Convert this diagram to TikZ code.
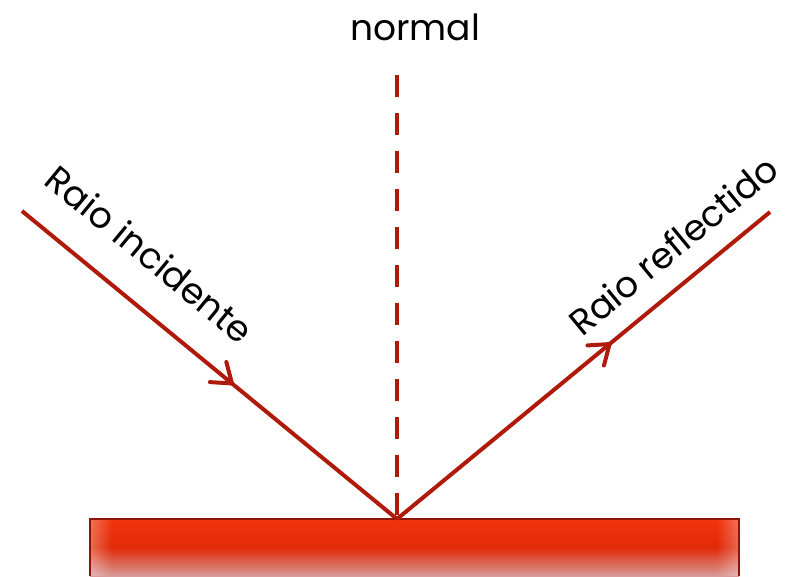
\documentclass[tikz,border=0pt]{standalone}
\usepackage{fontspec}
\setmainfont{Poppins}
\usetikzlibrary{decorations.markings,fadings}
\definecolor{ray}{HTML}{B01A0A}
\definecolor{mirA}{HTML}{F2340E}
\definecolor{mirB}{HTML}{E02A08}
\definecolor{mirC}{HTML}{D99A98}
\tikzset{
  raystyle/.style={draw=ray,line width=4pt},
  midarrow/.style={postaction={decorate},decoration={markings,
     mark=at position #1 with {\draw[ray,line width=4pt,line cap=round,line join=round,solid]
        (-18pt,13pt) -- (0pt,0pt) -- (-18pt,-13pt);}}},
  lbl/.style={font=\fontsize{36}{40}\selectfont,text=black,inner sep=0pt}
}
\begin{document}
\begin{tikzpicture}[x=1pt,y=-1pt]
\useasboundingbox (0,0) rectangle (794,576);
% mirror
\shade[top color=mirA,bottom color=mirC,middle color=mirB,shading angle=0] (90,519) rectangle (739,576);
\fill[white,opacity=0.3,path fading=east] (90,519) rectangle (112,576);
\fill[white,opacity=0.3,path fading=west] (717,519) rectangle (739,576);
\draw[draw=ray!80!black,line width=1.5pt] (90,576) -- (90,519) -- (739,519) -- (739,576);
% coordinates
\coordinate (A) at (22,211);
\coordinate (O) at (397,519);
\coordinate (B) at (770,212);
\coordinate (N) at (397,75);
% normal
\draw[ray,line width=4.5pt,dash pattern=on 22pt off 16pt] (N) -- (O);
% rays
\draw[raystyle,midarrow=0.56] (A) -- (O);
\draw[raystyle,midarrow=0.57] (O) -- (B);
% labels
\node[lbl] (normal) at (415,27) {normal};
\node[lbl,rotate=-39.4] (inc) at (150,254) {Raio incidente};
\node[lbl,rotate=39.5] (refl) at (673,245) {Raio reflectido};
\end{tikzpicture}
\end{document}
